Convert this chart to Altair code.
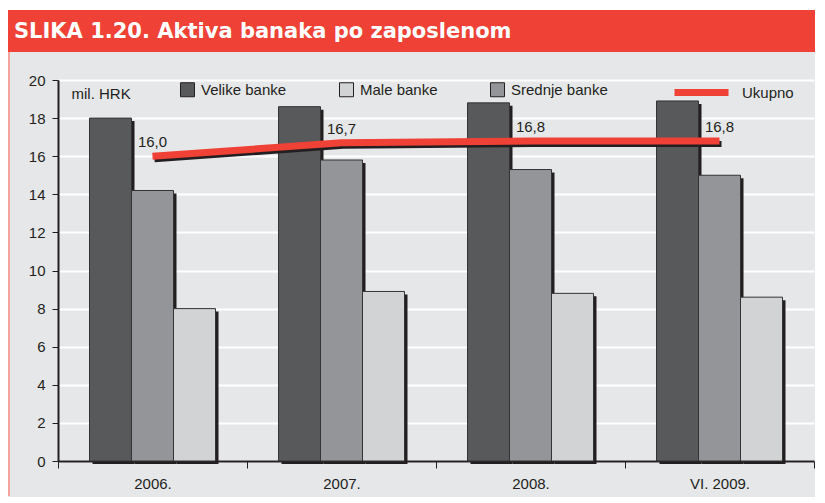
import altair as alt
import pandas as pd

# ---- data ----
categories = ["2006.", "2007.", "2008.", "VI. 2009."]
series = ["Velike banke", "Srednje banke", "Male banke"]
velike = [18.0, 18.6, 18.8, 18.9]
srednje = [14.2, 15.8, 15.3, 15.0]
male = [8.0, 8.9, 8.8, 8.6]
ukupno = [16.0, 16.7, 16.8, 16.8]
ukupno_labels = ["16,0", "16,7", "16,8", "16,8"]

legend_order = ["Velike banke", "Male banke", "Srednje banke"]
bar_colors = ["#58595b", "#d1d3d4", "#939598"]
line_name = "Ukupno"
title_text = "SLIKA 1.20. Aktiva banaka po zaposlenom"
unit_text = "mil. HRK"

rows = []
for name, vals in zip(series, [velike, srednje, male]):
    for c, v in zip(categories, vals):
        rows.append({"period": c, "series": name, "value": v})
bars_df = pd.DataFrame(rows)
line_df = pd.DataFrame({"period": categories, "value": ukupno,
                        "label": ukupno_labels, "series": [line_name] * len(categories)})
deco_df = pd.DataFrame({"d": [0]})

W, H = 756, 381
STEP = W / len(categories)
INK = "#231f20"
RED = "#ef4136"
FONT = "Liberation Sans"

x_enc = alt.X(
    "period:N", sort=categories,
    scale=alt.Scale(paddingInner=0, paddingOuter=0),
    axis=alt.Axis(title=None, labelAngle=0, tickBand="extent", grid=False,
                  domainColor=INK, domainWidth=2, tickColor=INK, tickWidth=1,
                  tickSize=7, labelFontSize=15, labelPadding=8, labelColor=INK,
                  labelFont=FONT),
)
y_enc = alt.Y(
    "value:Q", scale=alt.Scale(domain=[0, 20]),
    axis=alt.Axis(values=list(range(0, 21, 2)), title=unit_text, titleAngle=0,
                  titleX=13, titleY=13, titleAlign="left", titleBaseline="middle",
                  titleFontWeight="normal", titleFontSize=15, titleColor=INK,
                  titleFont=FONT,
                  gridColor="#ffffff", gridWidth=2, domainColor=INK, domainWidth=2,
                  tickColor=INK, tickSize=6, tickWidth=1, labelPadding=7,
                  labelFontSize=15, labelColor=INK, labelFont=FONT),
)
xoff = alt.XOffset("series:N", sort=series,
                   scale=alt.Scale(paddingInner=0, paddingOuter=0.75))
xoff_shadow = alt.XOffset("series:N", sort=series,
                          scale=alt.Scale(paddingInner=0, paddingOuter=0.75,
                                          range=[3, STEP + 3]))

# ---- decorations (title band, panel edge) ----
white_strip = alt.Chart(deco_df).mark_rect(color="#ffffff").encode(
    x=alt.value(-50), x2=alt.value(757), y=alt.value(-72), y2=alt.value(-70))
red_band = alt.Chart(deco_df).mark_rect(color=RED).encode(
    x=alt.value(-50), x2=alt.value(757), y=alt.value(-70), y2=alt.value(-28))
edge = alt.Chart(deco_df).mark_rule(color="#f5a59c", strokeWidth=2).encode(
    x=alt.value(-49), y=alt.value(-28), y2=alt.value(416))
title = alt.Chart(deco_df).mark_text(
    text=title_text, color="#ffffff", font="DejaVu Sans", fontWeight="bold",
    fontSize=21, align="left", baseline="alphabetic").encode(
    x=alt.value(-44), y=alt.value(-42))

# ---- bars ----
shadow = alt.Chart(bars_df).mark_bar(color=INK, yOffset=3).encode(
    x=x_enc, xOffset=xoff_shadow, y=y_enc)
bars = alt.Chart(bars_df).mark_bar(stroke="#333333", strokeWidth=1).encode(
    x=x_enc, xOffset=xoff, y=y_enc,
    fill=alt.Fill("series:N",
                  scale=alt.Scale(domain=legend_order, range=bar_colors),
                  legend=alt.Legend(title=None, orient="none", legendX=122, legendY=2,
                                    direction="horizontal", columns=3,
                                    symbolType="square", symbolSize=196,
                                    symbolStrokeColor=INK, symbolStrokeWidth=1,
                                    labelFontSize=15, labelOffset=6, labelColor=INK,
                                    labelFont=FONT, columnPadding=50, padding=0)),
)

# ---- line ----
line_shadow = alt.Chart(line_df).mark_line(
    color=INK, strokeWidth=6, xOffset=2, yOffset=3, strokeCap="butt").encode(
    x=x_enc, y=y_enc)
line = alt.Chart(line_df).mark_line(strokeWidth=7, strokeCap="butt").encode(
    x=x_enc, y=y_enc,
    stroke=alt.Stroke("series:N",
                      scale=alt.Scale(domain=[line_name], range=[RED]),
                      legend=alt.Legend(title=None, orient="none", legendX=613, legendY=-18,
                                        symbolType="stroke", symbolSize=2916,
                                        symbolStrokeWidth=7, labelFontSize=15,
                                        labelOffset=10, labelColor=INK,
                                        labelFont=FONT, padding=0)),
)
labels = alt.Chart(line_df).mark_text(
    fontSize=15, dy=-14, color=INK, font=FONT).encode(
    x=x_enc, y=y_enc, text="label:N")

chart = alt.layer(
    white_strip, red_band, edge, title, shadow, bars, line_shadow, line, labels
).resolve_scale(fill="independent", stroke="independent", xOffset="independent").properties(
    width=W, height=H, padding=0, background="#e6e7e8"
).configure(font=FONT).configure_view(stroke="transparent")

chart.save("out.html", embed_options={"renderer": "svg", "actions": False})
